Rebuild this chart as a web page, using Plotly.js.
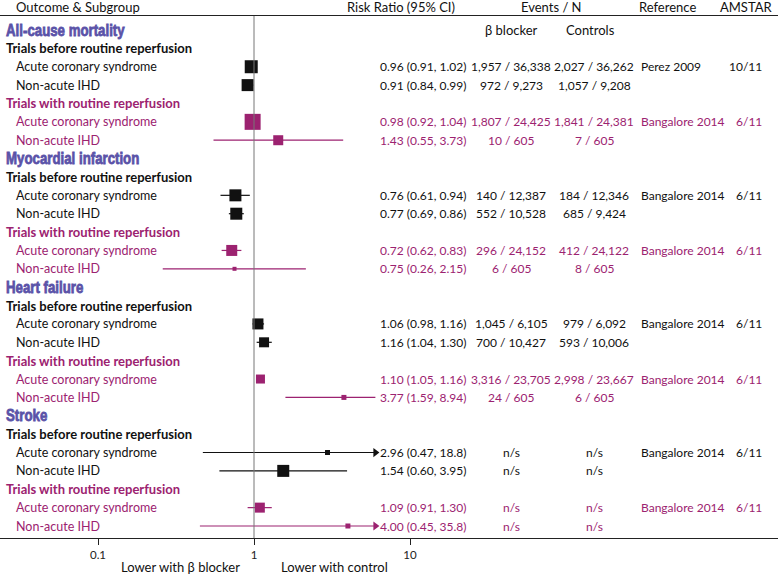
<!DOCTYPE html>
<html>
<head>
<meta charset="utf-8">
<script src="https://cdn.plot.ly/plotly-3.0.1.min.js"></script>
<style>html,body{margin:0;padding:0;background:#fff;}#chart{width:778px;height:575px;}</style>
</head>
<body>
<div id="chart"></div>
<script>
// ---------------- data ----------------
const outcomes = ['All-cause mortality', 'Myocardial infarction', 'Heart failure', 'Stroke'];
const periods = ['Trials before routine reperfusion', 'Trials with routine reperfusion'];
const subgroups = ['Acute coronary syndrome', 'Non-acute IHD'];

// order: outcome -> period -> subgroup
const rr = [0.96, 0.91, 0.98, 1.43,  0.76, 0.77, 0.72, 0.75,  1.06, 1.16, 1.10, 3.77,  2.96, 1.54, 1.09, 4.00];
const ciLow = [0.91, 0.84, 0.92, 0.55,  0.61, 0.69, 0.62, 0.26,  0.98, 1.04, 1.05, 1.59,  0.47, 0.60, 0.91, 0.45];
const ciHigh = [1.02, 0.99, 1.04, 3.73,  0.94, 0.86, 0.83, 2.15,  1.16, 1.30, 1.16, 8.94,  18.8, 3.95, 1.30, 35.8];
const betaBlockerEvents = ['1,957 / 36,338', '972 / 9,273', '1,807 / 24,425', '10 / 605',
  '140 / 12,387', '552 / 10,528', '296 / 24,152', '6 / 605',
  '1,045 / 6,105', '700 / 10,427', '3,316 / 23,705', '24 / 605',
  'n/s', 'n/s', 'n/s', 'n/s'];
const controlEvents = ['2,027 / 36,262', '1,057 / 9,208', '1,841 / 24,381', '7 / 605',
  '184 / 12,346', '685 / 9,424', '412 / 24,122', '8 / 605',
  '979 / 6,092', '593 / 10,006', '2,998 / 23,667', '6 / 605',
  'n/s', 'n/s', 'n/s', 'n/s'];
const references = ['Perez 2009', '', 'Bangalore 2014', '',
  'Bangalore 2014', '', 'Bangalore 2014', '',
  'Bangalore 2014', '', 'Bangalore 2014', '',
  'Bangalore 2014', '', 'Bangalore 2014', ''];
const amstar = ['10/11', '', '6/11', '',
  '6/11', '', '6/11', '',
  '6/11', '', '6/11', '',
  '6/11', '', '6/11', ''];
const tickValues = [0.1, 1, 10];
const tickLabels = ['0.1', '1', '10'];

// ---------------- styles ----------------
const boxSize = [13, 12, 16, 10,  12, 12, 11, 4,  11, 10, 9, 5,  5, 12, 10, 5];
const C_BLACK = '#111111';
const C_MAG = '#9c2270';
const C_HEAD = '#5a52a8';
const FONT = 'Lato, "Open Sans", sans-serif';
const HEADFONT = '"Liberation Sans", Arial, sans-serif';
const HEAD_SCALE = 0.78;
const FS_LABEL = 12.5, FS_NUM = 12;
const W = 778, H = 575, MT = 16, MB = 37;
const PH = H - MT - MB;
const ARROW_LIMIT = 10, CLIP = 6.0;   // forest panel clip (display only)
const px = p => p / W;
const py = p => (H - MB - p) / PH;
const fmt = v => v >= 10 ? v.toFixed(1) : v.toFixed(2);

// ---------------- build rows ----------------
const annotations = [];
const rowY = [], rowColor = [];
let row = 0, k = 0;
outcomes.forEach(o => {
  annotations.push({xref: 'paper', yref: 'y', x: px(4), y: row, xanchor: 'left', yanchor: 'middle', showarrow: false,
    text: '<b>' + o + '</b>', font: {family: HEADFONT, size: 17, weight: 'bold', color: C_HEAD}, name: 'heading'});
  row++;
  periods.forEach((p, pi) => {
    const col = pi === 0 ? C_BLACK : C_MAG;
    annotations.push({xref: 'paper', yref: 'y', x: px(4), y: row, xanchor: 'left', yanchor: 'middle', showarrow: false,
      text: '<b>' + p + '</b>', font: {family: FONT, size: 13, color: col}});
    row++;
    subgroups.forEach(s => {
      rowY.push(row); rowColor.push(col);
      const fl = {family: FONT, size: FS_LABEL, color: col};
      const f = {family: FONT, size: FS_NUM, color: col};
      annotations.push({xref: 'paper', yref: 'y', x: px(14), y: row, xanchor: 'left', yanchor: 'middle', showarrow: false, text: s, font: fl});
      annotations.push({xref: 'paper', yref: 'y', x: px(378), y: row, xanchor: 'left', yanchor: 'middle', showarrow: false,
        text: fmt(rr[k]) + ' (' + fmt(ciLow[k]) + ', ' + fmt(ciHigh[k]) + ')', font: f});
      annotations.push({xref: 'paper', yref: 'y', x: px(511), y: row, xanchor: 'center', yanchor: 'middle', showarrow: false, text: betaBlockerEvents[k], font: f});
      annotations.push({xref: 'paper', yref: 'y', x: px(594), y: row, xanchor: 'center', yanchor: 'middle', showarrow: false, text: controlEvents[k], font: f});
      if (references[k]) annotations.push({xref: 'paper', yref: 'y', x: px(639), y: row, xanchor: 'left', yanchor: 'middle', showarrow: false, text: references[k], font: f});
      if (amstar[k]) annotations.push({xref: 'paper', yref: 'y', x: px(764), y: row, xanchor: 'right', yanchor: 'middle', showarrow: false, text: amstar[k], font: f});
      row++; k++;
    });
  });
});
const nRows = row; // 28
const rowPx = (526 - 30) / (nRows - 1);
const yTop = -(30 - MT) / rowPx;
const yBot = (H - MB - 30) / rowPx;

// column headers
const hf = {family: FONT, size: 13, color: C_BLACK};
annotations.push({xref: 'paper', yref: 'paper', x: px(14), y: py(7), xanchor: 'left', yanchor: 'middle', showarrow: false, text: 'Outcome &amp; Subgroup', font: hf});
annotations.push({xref: 'paper', yref: 'paper', x: px(401), y: py(7), xanchor: 'center', yanchor: 'middle', showarrow: false, text: 'Risk Ratio (95% CI)', font: hf});
annotations.push({xref: 'paper', yref: 'paper', x: px(551), y: py(7), xanchor: 'center', yanchor: 'middle', showarrow: false, text: 'Events / N', font: hf});
annotations.push({xref: 'paper', yref: 'paper', x: px(637), y: py(7), xanchor: 'left', yanchor: 'middle', showarrow: false, text: 'Reference', font: hf});
annotations.push({xref: 'paper', yref: 'paper', x: px(746), y: py(7), xanchor: 'center', yanchor: 'middle', showarrow: false, text: 'AMSTAR', font: hf});
annotations.push({xref: 'paper', yref: 'y', x: px(512), y: 0, xanchor: 'center', yanchor: 'middle', showarrow: false, text: 'β blocker', font: hf});
annotations.push({xref: 'paper', yref: 'y', x: px(590), y: 0, xanchor: 'center', yanchor: 'middle', showarrow: false, text: 'Controls', font: hf});
// direction labels
annotations.push({xref: 'paper', yref: 'paper', x: px(180), y: py(567), xanchor: 'center', yanchor: 'middle', showarrow: false, text: 'Lower with β blocker', font: hf});
annotations.push({xref: 'paper', yref: 'paper', x: px(334), y: py(567), xanchor: 'center', yanchor: 'middle', showarrow: false, text: 'Lower with control', font: hf});

// ---------------- traces ----------------
const traces = [];
[C_BLACK, C_MAG].forEach(col => {
  const lx = [], ly = [], mx = [], my = [], ms = [], ax = [], ay = [];
  rowY.forEach((y, i) => {
    if (rowColor[i] !== col) return;
    lx.push(ciLow[i], Math.min(ciHigh[i], CLIP), null);
    ly.push(y, y, null);
    mx.push(rr[i]); my.push(y); ms.push(boxSize[i]);
    if (ciHigh[i] > ARROW_LIMIT) { ax.push(CLIP); ay.push(y); }
  });
  traces.push({type: 'scatter', mode: 'lines', x: lx, y: ly, line: {color: col, width: 1.2}, hoverinfo: 'skip', cliponaxis: false});
  traces.push({type: 'scatter', mode: 'markers', x: mx, y: my, marker: {symbol: 'square', size: ms, color: col, opacity: 1, line: {width: 0}}, hoverinfo: 'skip', cliponaxis: false});
  traces.push({type: 'scatter', mode: 'markers', x: ax, y: ay, marker: {symbol: 'triangle-right', size: 8, color: col, opacity: 1, line: {width: 0}}, hoverinfo: 'skip', cliponaxis: false});
});

const x1 = 254, slope = 156;
const layout = {
  width: W, height: H,
  margin: {l: 0, r: 0, t: MT, b: MB, pad: 0},
  paper_bgcolor: '#fff', plot_bgcolor: '#fff',
  showlegend: false,
  xaxis: {type: 'log', range: [-x1 / slope, (W - x1) / slope], showgrid: false, zeroline: false,
    showline: true, linecolor: '#222', linewidth: 1, mirror: true,
    ticks: 'outside', ticklen: 6, tickwidth: 1, tickcolor: '#222',
    tickvals: tickValues, ticktext: tickLabels, tickfont: {family: FONT, size: 11.5, color: '#222'}},
  yaxis: {range: [yBot, yTop], showgrid: false, zeroline: false, showline: false, showticklabels: false, ticks: ''},
  shapes: [{type: 'line', xref: 'x', yref: 'paper', x0: 1, x1: 1, y0: 0, y1: 1, line: {color: '#777', width: 1}}],
  annotations: annotations
};
Plotly.newPlot('chart', traces, layout, {displayModeBar: false, staticPlot: true}).then(gd => {
  gd.querySelectorAll('g.annotation').forEach(g => {
    const a = layout.annotations[+g.getAttribute('data-index')];
    if (a && a.name === 'heading') {
      const t = g.querySelector('text');
      if (t) {
        t.style.transformBox = 'fill-box';
        t.style.transformOrigin = '0% 50%';
        t.style.transform = 'scaleX(' + HEAD_SCALE + ')';
        t.style.stroke = C_HEAD;
        t.style.strokeWidth = '0.8px';
      }
    }
  });
});
</script>
</body>
</html>
